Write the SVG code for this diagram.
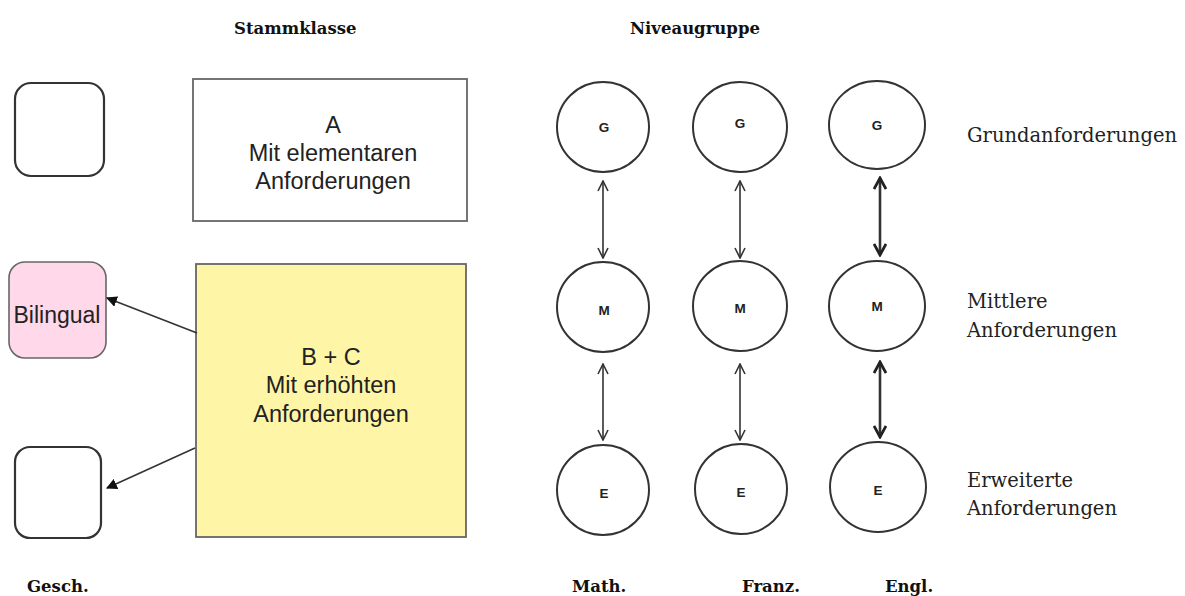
<svg xmlns="http://www.w3.org/2000/svg" width="1185" height="596" viewBox="0 0 1185 596">
<style>
.hd{font-family:"DejaVu Serif","Liberation Serif",serif;font-weight:bold;font-size:16.5px;fill:#111}
.lb{font-family:"DejaVu Serif","Liberation Serif",serif;font-size:19.5px;fill:#222}
.sans{font-family:"Liberation Sans",Arial,sans-serif;font-size:23.5px;fill:#222;text-anchor:middle}
.lt{font-family:"Liberation Sans",Arial,sans-serif;font-weight:bold;font-size:13.5px;fill:#222;text-anchor:middle}
.circ{fill:#fff;stroke:#333;stroke-width:2}
.rbox{fill:#fff;stroke:#333;stroke-width:2.2}
.conn{stroke:#333;fill:none}
.thin{stroke-width:1.6}
.thick{stroke-width:2.6}
</style>
<defs>
<marker id="open" viewBox="0 0 12 12" refX="11" refY="6" markerWidth="12" markerHeight="12" markerUnits="userSpaceOnUse" orient="auto-start-reverse">
<path d="M1,1 L11,6 L1,11" fill="none" stroke="#333" stroke-width="1.6"/>
</marker>
<marker id="bold" viewBox="0 0 14 14" refX="12" refY="7" markerWidth="14" markerHeight="14" markerUnits="userSpaceOnUse" orient="auto-start-reverse">
<path d="M1,1 L12,7 L1,13" fill="none" stroke="#222" stroke-width="2.8"/>
</marker>
<marker id="tri" viewBox="0 0 10 10" refX="9" refY="5" markerWidth="11" markerHeight="11" markerUnits="userSpaceOnUse" orient="auto">
<path d="M0,0 L10,5 L0,10 Z" fill="#111"/>
</marker>
</defs>

<text class="hd" x="234" y="34">Stammklasse</text>
<text class="hd" x="630" y="34">Niveaugruppe</text>

<g id="gesch-top"><rect class="rbox" x="15" y="83" width="89" height="93" rx="16"/></g>
<g id="bilingual"><rect x="9" y="262" width="97" height="96" rx="16" fill="#FFD8EA" stroke="#666" stroke-width="1.6"/>
<text class="sans" x="57" y="323" style="font-size:23px">Bilingual</text></g>
<g id="gesch-bottom"><rect class="rbox" x="15" y="447" width="86" height="91" rx="15"/></g>

<g id="klasse-a"><rect x="193" y="79" width="274" height="142" fill="#fff" stroke="#666" stroke-width="1.8"/>
<text class="sans" x="333" y="133">A</text>
<text class="sans" x="333" y="161">Mit elementaren</text>
<text class="sans" x="333" y="189">Anforderungen</text></g>

<g id="klasse-bc"><rect x="196" y="264" width="270" height="273" fill="#FFF5A6" stroke="#666" stroke-width="1.8"/>
<text class="sans" x="331" y="365">B + C</text>
<text class="sans" x="331" y="393">Mit erhöhten</text>
<text class="sans" x="331" y="422">Anforderungen</text></g>

<g id="math-g"><ellipse class="circ" cx="603" cy="127" rx="46" ry="45"/><text class="lt" x="604" y="132">G</text></g>
<g id="franz-g"><ellipse class="circ" cx="740" cy="127" rx="47" ry="45"/><text class="lt" x="740" y="128">G</text></g>
<g id="engl-g"><ellipse class="circ" cx="877" cy="125" rx="48" ry="44"/><text class="lt" x="877" y="130">G</text></g>
<g id="math-m"><ellipse class="circ" cx="603" cy="307" rx="46" ry="45"/><text class="lt" x="604" y="315">M</text></g>
<g id="franz-m"><ellipse class="circ" cx="740" cy="306" rx="47" ry="45"/><text class="lt" x="740" y="313">M</text></g>
<g id="engl-m"><ellipse class="circ" cx="877" cy="306" rx="48" ry="45"/><text class="lt" x="877" y="311">M</text></g>
<g id="math-e"><ellipse class="circ" cx="603" cy="490" rx="46" ry="45"/><text class="lt" x="604" y="498">E</text></g>
<g id="franz-e"><ellipse class="circ" cx="741" cy="489" rx="46" ry="45"/><text class="lt" x="741" y="497">E</text></g>
<g id="engl-e"><ellipse class="circ" cx="878" cy="487" rx="48" ry="45"/><text class="lt" x="878" y="495">E</text></g>

<g id="connectors">
<line class="conn thin" x1="603" y1="181" x2="603" y2="258" marker-start="url(#open)" marker-end="url(#open)"/>
<line class="conn thin" x1="603" y1="364" x2="603" y2="440" marker-start="url(#open)" marker-end="url(#open)"/>
<line class="conn thin" x1="740" y1="181" x2="740" y2="258" marker-start="url(#open)" marker-end="url(#open)"/>
<line class="conn thin" x1="740" y1="364" x2="740" y2="440" marker-start="url(#open)" marker-end="url(#open)"/>
<line class="conn thick" x1="880" y1="178" x2="880" y2="255" marker-start="url(#bold)" marker-end="url(#bold)"/>
<line class="conn thick" x1="880" y1="362" x2="880" y2="437" marker-start="url(#bold)" marker-end="url(#bold)"/>
<line class="conn" stroke-width="1.6" x1="197" y1="333" x2="107" y2="298" marker-end="url(#tri)"/>
<line class="conn" stroke-width="1.6" x1="195" y1="448" x2="107" y2="488" marker-end="url(#tri)"/>
</g>

<text class="lb" x="967" y="142">Grundanforderungen</text>
<text class="lb" x="967" y="308">Mittlere</text>
<text class="lb" x="967" y="337">Anforderungen</text>
<text class="lb" x="967" y="487">Erweiterte</text>
<text class="lb" x="967" y="515">Anforderungen</text>

<text class="hd" x="27" y="592">Gesch.</text>
<text class="hd" x="572" y="592">Math.</text>
<text class="hd" x="742" y="592">Franz.</text>
<text class="hd" x="885" y="592">Engl.</text>
</svg>
